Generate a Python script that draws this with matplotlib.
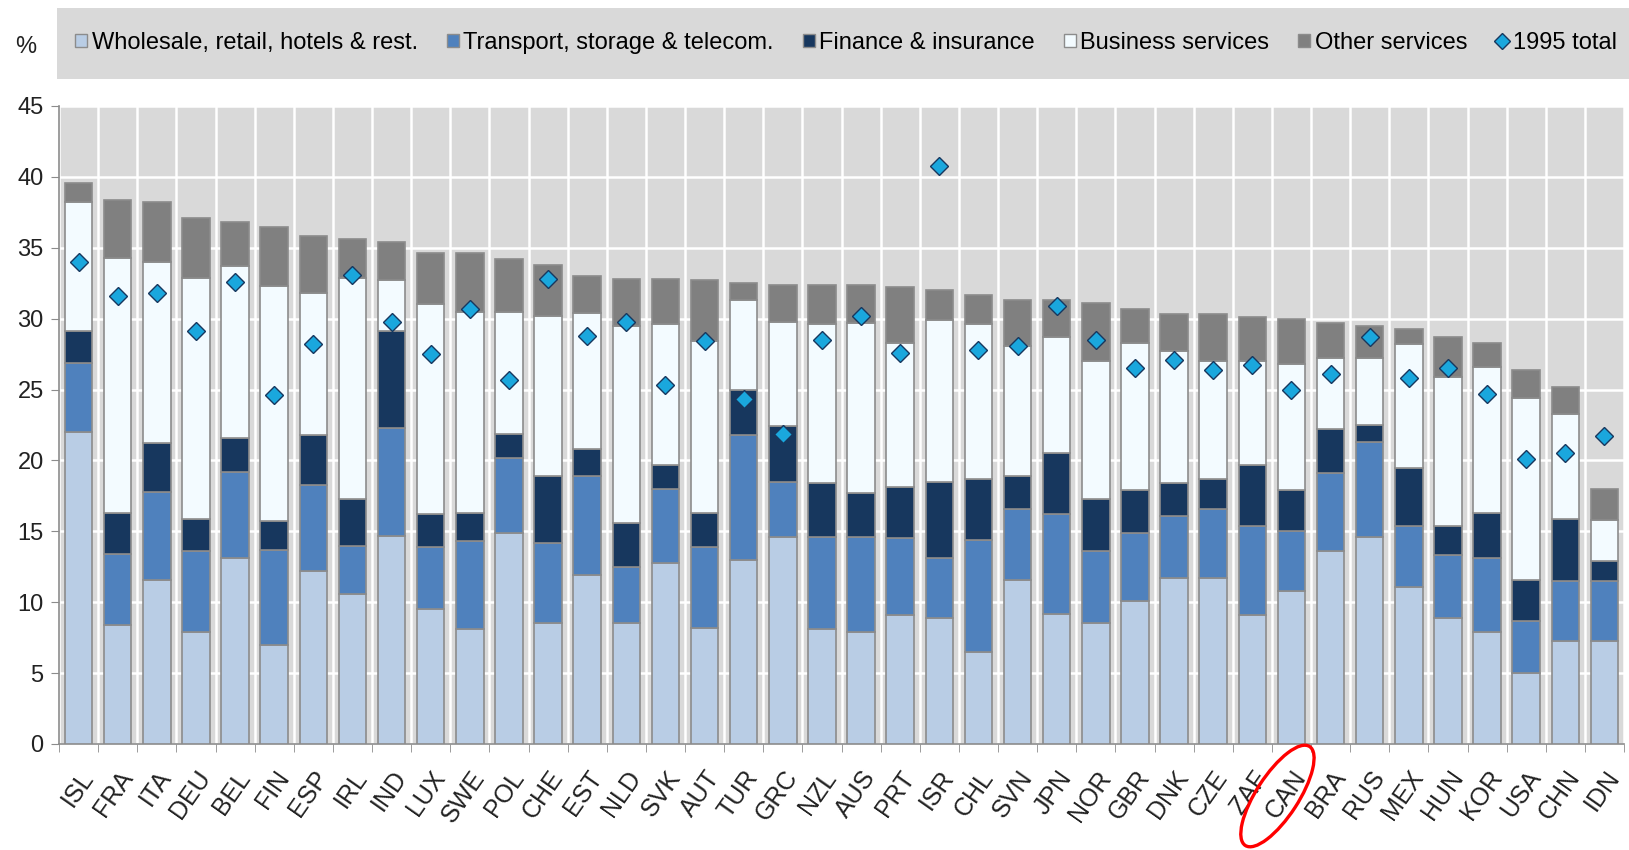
import numpy as np
import matplotlib.pyplot as plt
from matplotlib.patches import Ellipse, Rectangle
from matplotlib.lines import Line2D

plt.rcParams['font.family'] = ['Liberation Sans', 'DejaVu Sans']

countries = ['ISL', 'FRA', 'ITA', 'DEU', 'BEL', 'FIN', 'ESP', 'IRL', 'IND', 'LUX',
             'SWE', 'POL', 'CHE', 'EST', 'NLD', 'SVK', 'AUT', 'TUR', 'GRC', 'NZL',
             'AUS', 'PRT', 'ISR', 'CHL', 'SVN', 'JPN', 'NOR', 'GBR', 'DNK', 'CZE',
             'ZAF', 'CAN', 'BRA', 'RUS', 'MEX', 'HUN', 'KOR', 'USA', 'CHN', 'IDN']

# cumulative tops of each stacked segment
top_wholesale = [22.0, 8.4, 11.6, 7.9, 13.1, 7.0, 12.2, 10.6, 14.7, 9.5,
                 8.1, 14.9, 8.5, 11.9, 8.5, 12.8, 8.2, 13.0, 14.6, 8.1,
                 7.9, 9.1, 8.9, 6.5, 11.6, 9.2, 8.5, 10.1, 11.7, 11.7,
                 9.1, 10.8, 13.6, 14.6, 11.1, 8.9, 7.9, 5.0, 7.3, 7.3]
top_transport = [26.9, 13.4, 17.8, 13.6, 19.2, 13.7, 18.3, 14.0, 22.3, 13.9,
                 14.3, 20.2, 14.2, 18.9, 12.5, 18.0, 13.9, 21.8, 18.5, 14.6,
                 14.6, 14.5, 13.1, 14.4, 16.6, 16.2, 13.6, 14.9, 16.1, 16.6,
                 15.4, 15.0, 19.1, 21.3, 15.4, 13.3, 13.1, 8.7, 11.5, 11.5]
top_finance = [29.1, 16.3, 21.2, 15.9, 21.6, 15.7, 21.8, 17.3, 29.1, 16.2,
               16.3, 21.9, 18.9, 20.8, 15.6, 19.7, 16.3, 25.0, 22.4, 18.4,
               17.7, 18.1, 18.5, 18.7, 18.9, 20.5, 17.3, 17.9, 18.4, 18.7,
               19.7, 17.9, 22.2, 22.5, 19.5, 15.4, 16.3, 11.6, 15.9, 12.9]
top_business = [38.2, 34.3, 34.0, 32.9, 33.7, 32.3, 31.8, 32.9, 32.7, 31.0,
                30.5, 30.5, 30.2, 30.4, 29.5, 29.6, 28.4, 31.3, 29.8, 29.6,
                29.7, 28.3, 29.9, 29.6, 28.1, 28.7, 27.0, 28.3, 27.7, 27.0,
                27.0, 26.8, 27.2, 27.2, 28.2, 25.9, 26.6, 24.4, 23.3, 15.8]
top_other = [39.6, 38.4, 38.2, 37.1, 36.8, 36.5, 35.8, 35.6, 35.4, 34.6,
             34.6, 34.2, 33.8, 33.0, 32.8, 32.8, 32.7, 32.5, 32.4, 32.4,
             32.4, 32.2, 32.0, 31.7, 31.3, 31.3, 31.1, 30.7, 30.3, 30.3,
             30.1, 30.0, 29.7, 29.5, 29.3, 28.7, 28.3, 26.4, 25.2, 18.0]
total_1995 = [34.0, 31.6, 31.8, 29.1, 32.6, 24.6, 28.2, 33.1, 29.8, 27.5,
              30.7, 25.7, 32.8, 28.8, 29.8, 25.3, 28.4, 24.3, 21.9, 28.5,
              30.2, 27.6, 40.8, 27.8, 28.1, 30.9, 28.5, 26.5, 27.1, 26.4,
              26.7, 25.0, 26.1, 28.7, 25.8, 26.5, 24.7, 20.1, 20.5, 21.7]

tops = [top_wholesale, top_transport, top_finance, top_business, top_other]
labels = ['Wholesale, retail, hotels & rest.', 'Transport, storage & telecom.',
          'Finance & insurance', 'Business services', 'Other services']
colors = ['#B9CDE5', '#4F81BD', '#17375E', '#F3FBFF', '#808080']

x = np.arange(len(countries))
fig = plt.figure(figsize=(16.29, 8.5), dpi=100)
ax = fig.add_axes([59/1629, 1 - 744/850, (1624 - 59)/1629, (744 - 106)/850])
ax.set_facecolor('#D9D9D9')

bottom = np.zeros(len(countries))
for top, lab, col in zip(tops, labels, colors):
    top = np.array(top)
    ax.bar(x, top - bottom, bottom=bottom, width=0.7, color=col,
           edgecolor='#8C8C8C', linewidth=1.2, label=lab, zorder=3)
    bottom = top
ax.plot(x, total_1995, linestyle='none', marker='D', markersize=9,
        markerfacecolor='#1AA7DD', markeredgecolor='#17375E', markeredgewidth=1,
        label='1995 total', zorder=4)

ax.set_xlim(-0.5, len(countries) - 0.5)
ax.set_ylim(0, 45)
ax.set_yticks(range(0, 46, 5))
ax.set_xticks(x)
ax.set_xticks(np.arange(-0.5, len(countries), 1), minor=True)
ax.set_xticklabels(countries, rotation=55, ha='right', rotation_mode='anchor',
                   fontsize=18, color='#222222')
ax.tick_params(axis='x', which='major', length=0, pad=16)
ax.tick_params(axis='x', which='minor', length=6, color='#8C8C8C')
ax.tick_params(axis='y', labelsize=17, length=6, color='#8C8C8C',
               labelcolor='#222222', pad=5)
ax.grid(axis='y', color='white', linewidth=1.8, zorder=0)
ax.grid(axis='x', which='minor', color='white', linewidth=1.8, zorder=0)
ax.set_axisbelow(True)
for side in ['top', 'right']:
    ax.spines[side].set_visible(False)
for side in ['left', 'bottom']:
    ax.spines[side].set_color('#8C8C8C')
    ax.spines[side].set_linewidth(1.2)

# legend strip at the top
fig.patches.append(Rectangle((57/1629, 1 - 79/850), 1 - 57/1629, 71/850,
                             transform=fig.transFigure, facecolor='#D9D9D9',
                             edgecolor='none', zorder=0))
handles = [Rectangle((0, 0), 1, 1, facecolor=c, edgecolor='#8C8C8C', linewidth=1)
           for c in colors]
handles.append(Line2D([], [], linestyle='none', marker='D', markersize=8,
                      markerfacecolor='#1AA7DD', markeredgecolor='#17375E'))
leg = fig.legend(handles, labels + ['1995 total'], loc='center left',
                 bbox_to_anchor=(66/1629, 1 - 60/850, (1626 - 66)/1629, 34/850),
                 mode='expand', ncol=6, frameon=False, borderaxespad=0,
                 fontsize=17, handlelength=0.5, handleheight=0.5,
                 handletextpad=0.2, columnspacing=0.5)
fig.text(26/1629, 1 - 47/850, '%', fontsize=17, ha='center', va='center',
         color='#222222')

# red ellipse around the CAN label (sized in pixels so it keeps its shape)
i_can = countries.index('CAN')
fig.canvas.draw()
cx_pix = ax.transData.transform((i_can, 0))[0] - 14
ring = Ellipse((cx_pix / fig.dpi, (850 - 796) / fig.dpi), 1.18, 0.42, angle=57,
               transform=fig.dpi_scale_trans, fill=False, edgecolor='red',
               linewidth=2.4, clip_on=False)
fig.patches.append(ring)

fig.savefig('out.png', dpi=100)
